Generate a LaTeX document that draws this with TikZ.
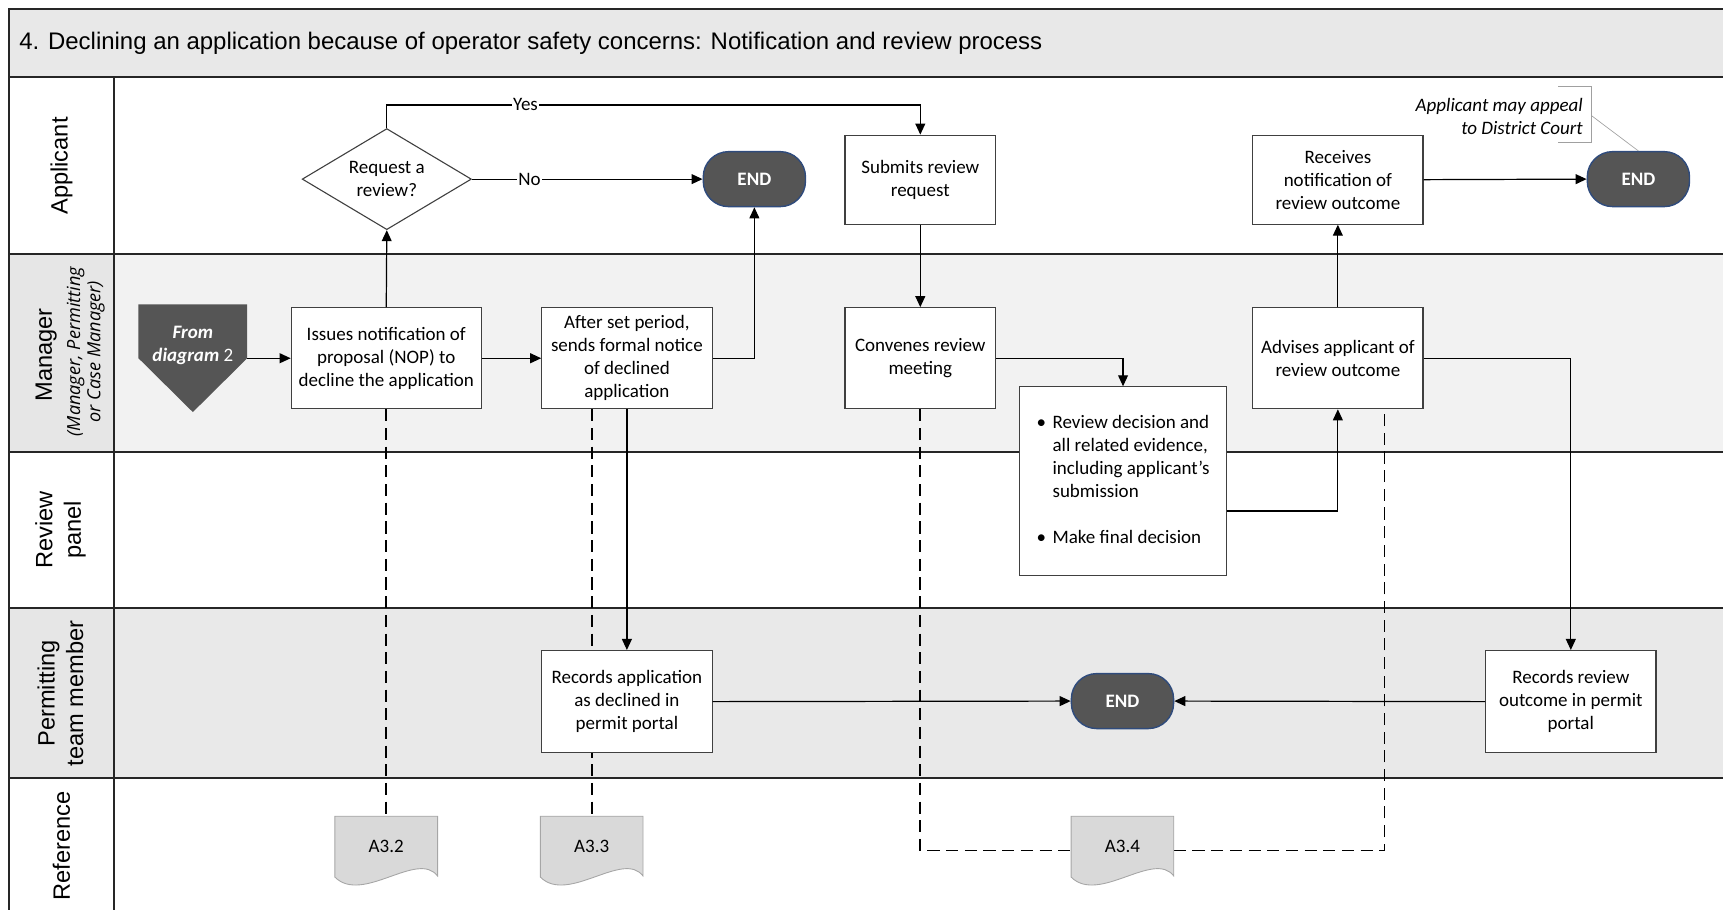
\documentclass[tikz,border=0pt]{standalone}
\usepackage{fontspec}
\setmainfont{Carlito}
\newfontfamily\lanefont{Liberation Sans}
\newfontfamily\subfont{Open Sans}
\usetikzlibrary{arrows.meta,shapes.geometric}
\definecolor{bandgray}{HTML}{E8E8E8}
\definecolor{mgrgray}{HTML}{F2F2F2}
\definecolor{ptmgray}{HTML}{E9E9E9}
\definecolor{hdrgray}{HTML}{E6E6E6}
\definecolor{endgray}{HTML}{555555}
\definecolor{endblue}{HTML}{2F4B7C}
\definecolor{docgray}{HTML}{D9D9D9}
\definecolor{notegray}{HTML}{A0A0A0}
\pgfdeclarelayer{bg}
\pgfsetlayers{bg,main}

\begin{document}
\begin{tikzpicture}[x=1pt, y=-1pt,
	every node/.style={font=\fontsize{17.3}{21}\selectfont},
	box/.style={draw=black!75, fill=white, line width=1pt, align=center, inner sep=0pt},
	endbox/.style={draw=endblue, fill=endgray, line width=1.3pt, rounded corners=23pt,
		minimum width=93pt, minimum height=50pt, text=white, font=\fontsize{17.3}{21}\selectfont\bfseries},
	flow/.style={-{Triangle[length=10pt,width=9pt]}, line width=1.1pt},
	refline/.style={line width=1.5pt, dash pattern=on 11pt off 6pt},
	laneline/.style={line width=1.8pt, draw=black!85},
	lane/.style={rotate=90, align=center, font=\lanefont\fontsize{21.5}{26}\selectfont},
	doc/.style={minimum width=93pt, minimum height=55pt, inner sep=0pt},
	lbl/.style={fill=white, inner sep=1pt},
]
\useasboundingbox (0,0) rectangle (1568,828);
\clip (0,0) rectangle (1568,828);

% lanes
\begin{pgfonlayer}{bg}
\fill[bandgray] (8,8) rectangle (1600,70);
\fill[mgrgray]  (104,231) rectangle (1600,411);
\fill[ptmgray]  (104,553) rectangle (1600,708);
\fill[hdrgray]  (8,231) rectangle (104,411);
\fill[hdrgray]  (8,553) rectangle (104,708);
\draw[laneline] (1600,8) -- (8,8) -- (8,900);
\draw[laneline] (104,70) -- (104,900);
\foreach \y in {70,231,411,553,708}
	\draw[laneline] (8,\y) -- (1600,\y);
\end{pgfonlayer}

\node[anchor=west, font=\lanefont\fontsize{21.8}{26}\selectfont] (title) at (14,39)
	{4. Declining an application because of operator safety concerns: Notification and review process};

\node[lane] (lapp) at (56,151) {Applicant};
\node[lane] (lmgr) at (42,323) {Manager};
\node[rotate=90, align=center, font=\subfont\itshape\fontsize{16.5}{18.5}\selectfont] (lmgrsub) at (78,320)
	{(Manager, Permitting\\or Case Manager)};
\node[lane] (lrev) at (55,482) {Review\\panel};
\node[lane] (lptm) at (55,631) {Permitting\\team member};
\node[lane] (lref) at (56,770) {Reference};

% from diagram 2
\fill[endgray] (126,277) -- (225,277) -- (225,326) -- (175.5,375) -- (126,326) -- cycle;
\node[text=white, align=center] (from) at (175.5,314)
	{\textbf{\textit{From}}\\\textbf{\textit{diagram}} 2};
\coordinate (fromtip) at (225,326);

% applicant
\node[box, diamond, aspect=1.67, minimum width=154pt, minimum height=92pt] (ask) at (352,163) {Request a\\review?};
\node[endbox] (end1) at (686.5,163) {END};
\node[box, minimum width=137pt, minimum height=81pt] (sub) at (837.5,163.5) {Submits review\\request};
\node[box, minimum width=155pt, minimum height=81pt] (rcv) at (1217.5,163.5) {Receives\\notification of\\review outcome};
\node[endbox] (end2) at (1491,163) {END};
\node[anchor=east, align=right, font=\itshape\fontsize{17.3}{21.5}\selectfont] (appeal) at (1444,106)
	{Applicant may appeal\\to District Court};
\draw[notegray, line width=1pt] (1418,79) -- (1448,79) -- (1448,130) -- (1418,130);
\coordinate (brk) at (1448,105);
\draw[notegray, line width=0.6pt] (brk) -- (end2.north);

% manager
\node[box, minimum width=173pt, minimum height=92pt] (nop) at (351.5,326) {Issues notification of\\proposal (NOP) to\\decline the application};
\node[box, minimum width=155pt, minimum height=92pt] (ntc) at (570.5,326) {After set period,\\sends formal notice\\of declined\\application};
\node[box, minimum width=137pt, minimum height=92pt] (cnv) at (837.5,326) {Convenes review\\meeting};
\node[box, minimum width=155pt, minimum height=92pt] (adv) at (1217.5,326) {Advises applicant of\\review outcome};

% review panel
\node[box, minimum width=188pt, minimum height=172pt, align=left] (pnl) at (1022,438)
	{\begin{tabular}{@{}l@{\hspace{6pt}}l@{}}
	\textbullet & Review decision and\\
	 & all related evidence,\\
	 & including applicant’s\\
	 & submission\\[21pt]
	\textbullet & Make final decision
	\end{tabular}};

% permitting team member
\node[box, minimum width=155pt, minimum height=93pt] (rapp) at (570.5,638.5) {Records application\\as declined in\\permit portal};
\node[endbox] (end3) at (1021.5,638) {END};
\node[box, minimum width=155pt, minimum height=93pt] (rrev) at (1429.5,638.5) {Records review\\outcome in permit\\portal};

% reference
\node[doc] (a32) at (351.5,770.5) {};
\node[doc] (a33) at (538.5,770.5) {};
\node[doc] (a34) at (1021.5,770.5) {};

% dashed references
\begin{pgfonlayer}{bg}
\draw[refline] (nop.south) -- (a32.north);
\draw[refline] (a33.north |- ntc.south) -- (a33.north);
\draw[refline] (cnv.south) |- ([yshift=-3.5pt]a34.west);
\draw[refline] ([yshift=-3.5pt]a34.east) -| ([xshift=42.5pt]adv.south);
\end{pgfonlayer}

\foreach \d in {a32,a33,a34}
	\filldraw[fill=docgray, draw=black!35, line width=0.8pt] (\d.north west) -- (\d.north east)
		-- ([yshift=1pt]\d.south east) .. controls +(-18,-24) and +(25,25) .. (\d.south west) -- cycle;
\node at (a32) {A3.2};
\node at (a33) {A3.3};
\node at (a34) {A3.4};

% flow
\draw[flow] (fromtip) -- (nop.west);
\draw[flow] (nop.north) -- (ask.south);
\draw[flow] (ask.east) -- node[lbl, pos=0.25] {No} (end1.west);
\draw[flow] (ask.north) -- ++(0,-21) -| node[lbl, pos=0.13] {Yes} (sub.north);
\draw[flow] (nop.east) -- (ntc.west);
\draw[flow] (ntc.east) -| (end1.south);
\draw[flow] (ntc.south) -- (rapp.north);
\draw[flow] (sub.south) -- (cnv.north);
\draw[flow] (cnv.east) -| (pnl.north);
\draw[flow] ([yshift=-27pt]pnl.east) -| (adv.south);
\draw[flow] (adv.north) -- (rcv.south);
\draw[flow] (rcv.east) -- (end2.west);
\draw[flow] (adv.east) -| (rrev.north);
\draw[flow] (rrev.west) -- (end3.east);
\draw[flow] (rapp.east) -- (end3.west);
\end{tikzpicture}
\end{document}
